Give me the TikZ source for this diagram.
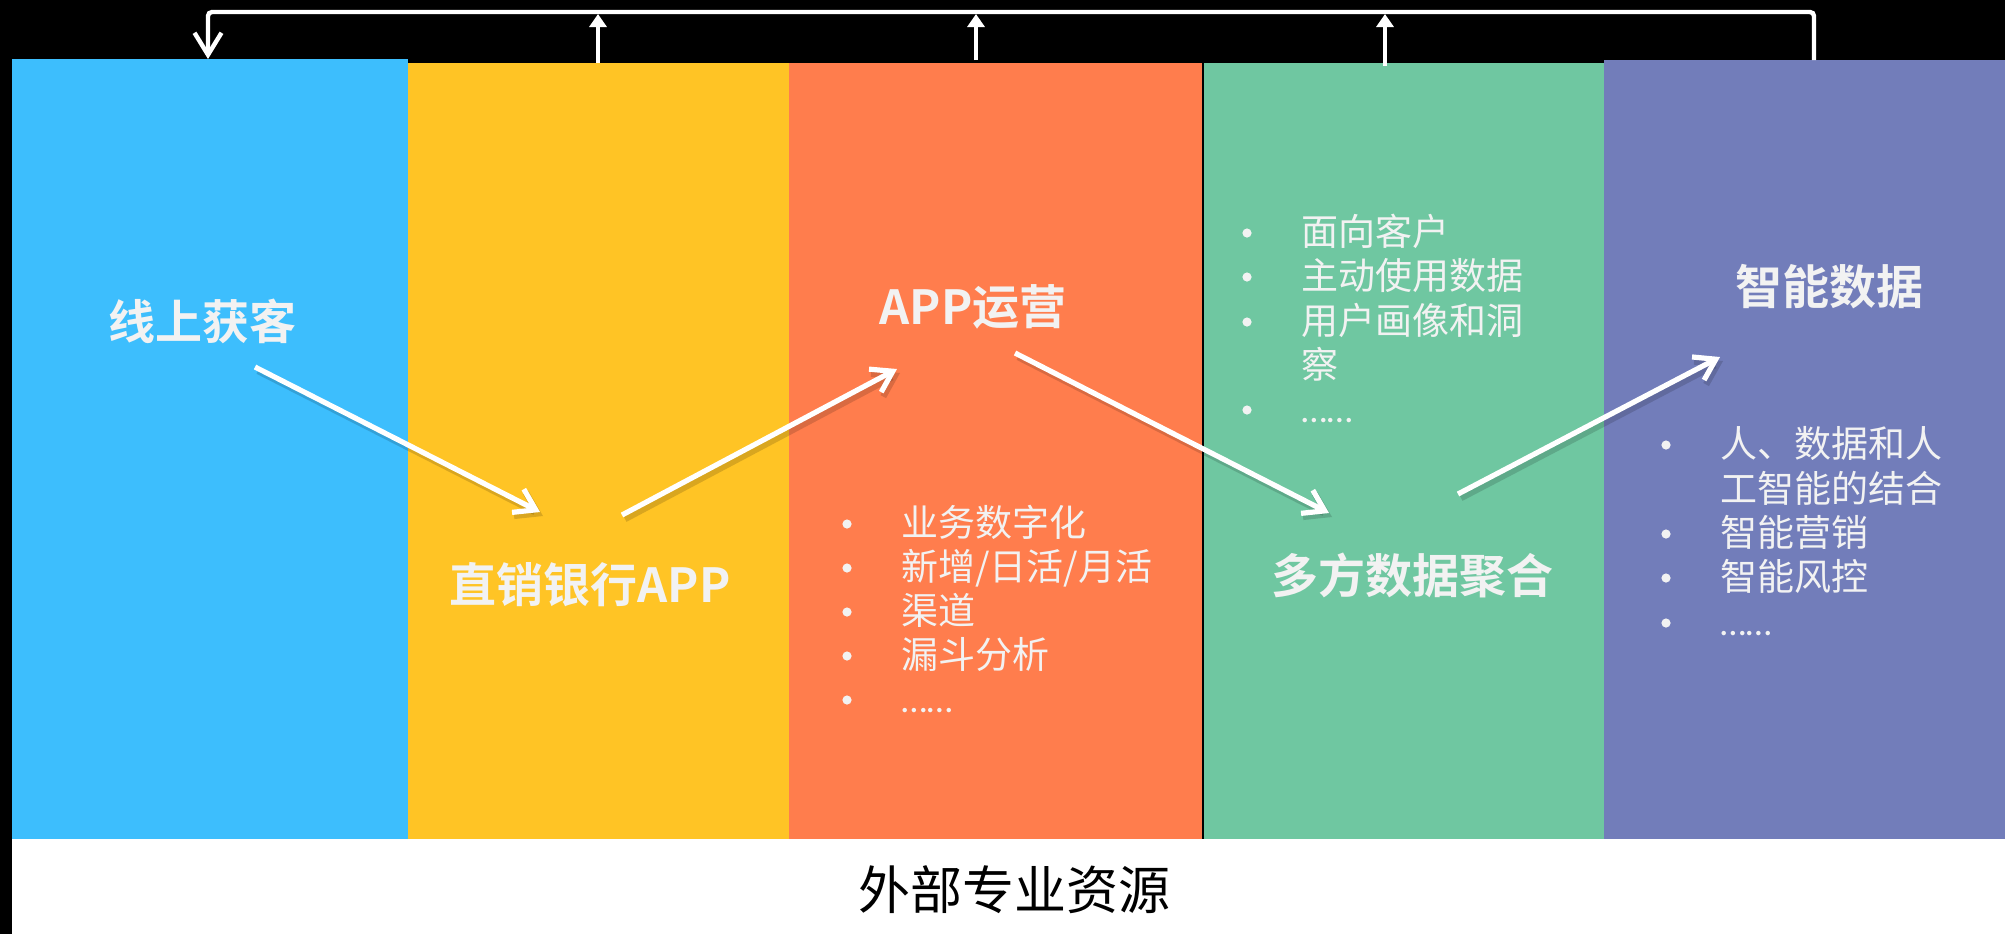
\documentclass[tikz,border=0pt]{standalone}
\usepackage{fontspec}
\setmainfont{Noto Sans CJK SC}[BoldFont={Noto Sans CJK SC Bold}]
\newfontfamily\latinf{Carlito}
\usetikzlibrary{arrows.meta}
\definecolor{cblue}{HTML}{3DBEFD}
\definecolor{cyellow}{HTML}{FFC425}
\definecolor{corange}{HTML}{FF7D4D}
\definecolor{cgreen}{HTML}{6FC7A1}
\definecolor{cpurple}{HTML}{727DBA}
\definecolor{txt}{HTML}{F2F2F2}
\newcommand\bitem[4]{%
  \node[dotb] (#1b) at (#2,#3) {};
  \node[item] (#1t) at (#2+54,#3) {#4};}
\begin{document}
\begin{tikzpicture}[x=0.5pt,y=-0.5pt,
  title/.style={text=txt, font=\bfseries\fontsize{23.5}{28}\selectfont, inner sep=0},
  item/.style={text=txt, font=\fontsize{18.5}{22}\selectfont, anchor=west, inner sep=0, text height=15.2pt, text depth=3pt},
  dotb/.style={circle, fill=txt, inner sep=0, minimum size=4.6pt},
  flow/.style={draw=white, line width=2.6pt, -{Straight Barb[length=10pt,width=13pt]}},
  flowshadow/.style={draw=black, opacity=0.15, line width=3.2pt, -{Straight Barb[length=10pt,width=13pt]}},
  upline/.style={draw=white, line width=2.2pt, -{Triangle[length=6.5pt,width=8.5pt]}},
  loopline/.style={draw=white, line width=2.2pt, rounded corners=2pt, -{Straight Barb[length=11pt,width=13.5pt]}},
  colbox/.style={inner sep=0, outer sep=0}]
\useasboundingbox (0,0) rectangle (2005,934);
\fill[black] (0,0) rectangle (2005,934);
\fill[white] (11.5,839) rectangle (2005,934);
% columns
\fill[cblue] (11.5,59) rectangle (408,839);
\fill[cyellow] (408,63) rectangle (789,839);
\fill[corange] (789,63) rectangle (1202,839);
\fill[cgreen] (1203.5,63) rectangle (1604,839);
\fill[cpurple] (1604,60) rectangle (2005,839);
% top feedback connectors
\coordinate (lineY) at (0,12);
\coordinate (tipY) at (0,14);
\coordinate (pu) at (1814,60);
\coordinate (bd) at (208,59);
\coordinate (yu) at (598,63);
\coordinate (ou) at (976,60);
\coordinate (gu) at (1385,66);
\draw[loopline] (pu) -- (pu |- lineY) -| (bd);
\draw[upline] (yu) -- (yu |- tipY);
\draw[upline] (ou) -- (ou |- tipY);
\draw[upline] (gu) -- (gu |- tipY);
% titles
\node[title] (t1) at (202,321) {线上获客};
\node[title] (t2) at (590,585) {直销银行APP};
\node[title] (t3) at (973,307) {APP运营};
\node[title] (t4) at (1412,575) {多方数据聚合};
\node[title] (t5) at (1829,287) {智能数据};
% flow arrows
\coordinate (s1) at (255,367); \coordinate (e1) at (540,512);
\coordinate (s2) at (622,515); \coordinate (e2) at (897,369);
\coordinate (s3) at (1015,353); \coordinate (e3) at (1329,513);
\coordinate (s4) at (1458,494); \coordinate (e4) at (1720,357);
\foreach \k in {1,2,3,4}{
  \draw[flowshadow] ([shift={(3,4)}]s\k) -- ([shift={(3,4)}]e\k);
  \draw[flow] (s\k) -- (e\k);
}
% orange list
\bitem{o1}{847}{524}{业务数字化}
\bitem{o2}{847}{568}{新增/日活/月活}
\bitem{o3}{847}{612}{渠道}
\bitem{o4}{847}{656}{漏斗分析}
\bitem{o5}{847}{700}{{\latinf ……}}
% green list
\bitem{g1}{1247}{233}{面向客户}
\bitem{g2}{1247}{277}{主动使用数据}
\bitem{g3}{1247}{322}{用户画像和洞}
\node[item] (g3c) at (1301,366) {察};
\bitem{g5}{1247}{410}{{\latinf ……}}
% purple list
\bitem{p1}{1666}{445}{人、数据和人}
\node[item] (p1c) at (1720,490) {工智能的结合};
\bitem{p3}{1666}{534}{智能营销}
\bitem{p4}{1666}{578}{智能风控}
\bitem{p5}{1666}{623}{{\latinf ……}}
% bottom label
\node[text=black, font=\fontsize{26}{30}\selectfont, inner sep=0] (ext) at (1014,890) {外部专业资源};
\end{tikzpicture}
\end{document}
